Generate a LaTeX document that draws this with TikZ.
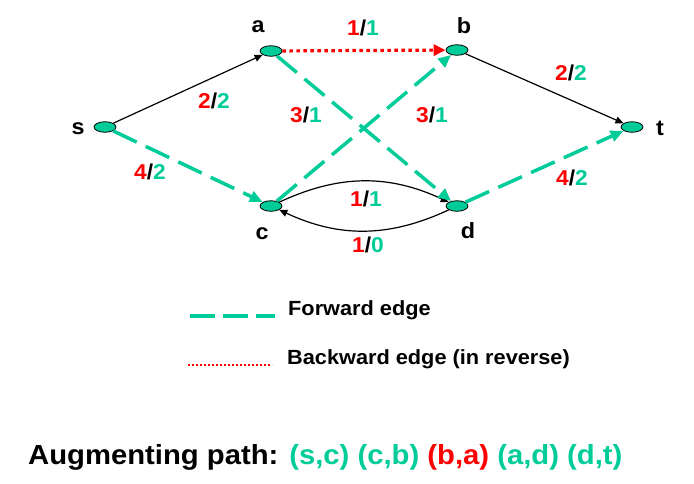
\documentclass[tikz,border=0pt]{standalone}
\usepackage{fontspec}
\setmainfont{Liberation Sans}[FakeStretch=1.06]
\usetikzlibrary{arrows.meta,shapes.geometric}
\definecolor{flowgreen}{RGB}{0,204,153}
\definecolor{capred}{RGB}{255,0,0}
\newcommand{\capflow}[2]{\textcolor{capred}{#1}/\textcolor{flowgreen}{#2}}

\begin{document}
\begin{tikzpicture}[x=1pt,y=-1pt,
  vertex/.style={ellipse,draw=black,line width=0.8pt,fill=flowgreen,
    minimum width=22pt,minimum height=10.5pt,inner sep=0pt},
  vname/.style={inner sep=0pt,font=\fontsize{22}{24}\selectfont\bfseries},
  flowlabel/.style={inner sep=0pt,font=\fontsize{21.5}{24}\selectfont\bfseries},
  legend/.style={anchor=west,inner sep=0pt,font=\fontsize{20.5}{24}\selectfont\bfseries},
  plain/.style={-{Triangle[length=8pt,width=7pt]},line width=1.2pt,black},
  fwd/.style={-{Triangle[length=13pt,width=11pt]},line width=3.5pt,flowgreen,
    dash pattern=on 26pt off 10pt},
  bwd/.style={-{Triangle[length=12pt,width=11pt]},line width=3.2pt,capred,
    dash pattern=on 3.5pt off 3.5pt}]
  \useasboundingbox (0,0) rectangle (694,483);

  % vertices
  \node[vertex] (s) at (105,127) {};
  \node[vertex] (a) at (271,51) {};
  \node[vertex] (b) at (457,50) {};
  \node[vertex] (c) at (271,206) {};
  \node[vertex] (d) at (457,206) {};
  \node[vertex] (t) at (632,127) {};

  \node[vname] (s-name) at (78,129) {s};
  \node[vname] (a-name) at (258,27) {a};
  \node[vname] (b-name) at (464,26) {b};
  \node[vname] (c-name) at (262,234) {c};
  \node[vname] (d-name) at (468,231) {d};
  \node[vname] (t-name) at (660,128) {t};

  % edges
  \path[plain]
  (s) edge (a)
  (b) edge (t)
  (c) edge[bend left=25] (d)
  (d) edge[bend left=25] (c);
  \path[fwd]
  (s) edge (c)
  (c) edge (b)
  (a) edge (d)
  (d) edge (t);
  \path[bwd]
  (a) edge (b);

  % capacity / flow
  \node[flowlabel] (ab-flow) at (363,28) {\capflow{1}{1}};
  \node[flowlabel] (sa-flow) at (214,101) {\capflow{2}{2}};
  \node[flowlabel] (ad-flow) at (306,115) {\capflow{3}{1}};
  \node[flowlabel] (cb-flow) at (432,115) {\capflow{3}{1}};
  \node[flowlabel] (bt-flow) at (571,73) {\capflow{2}{2}};
  \node[flowlabel] (sc-flow) at (150,172) {\capflow{4}{2}};
  \node[flowlabel] (dt-flow) at (572,178) {\capflow{4}{2}};
  \node[flowlabel] (cd-flow) at (366,199) {\capflow{1}{1}};
  \node[flowlabel] (dc-flow) at (368,245) {\capflow{1}{0}};

  % legend
  \coordinate (fw-from) at (190,316);
  \coordinate (fw-to) at (275,316);
  \draw[fwd,-,dash pattern=on 25pt off 8pt] (fw-from) -- (fw-to);
  \node[legend] (fw-text) at (288,310) {Forward edge};
  \coordinate (bw-from) at (188,365);
  \coordinate (bw-to) at (272,365);
  \draw[bwd,-,line width=2.4pt,dash pattern=on 2pt off 2pt] (bw-from) -- (bw-to);
  \node[legend] (bw-text) at (287,359) {Backward edge (in reverse)};

  \node[anchor=west,inner sep=0pt,font=\fontsize{27.6}{32}\selectfont\bfseries] (aug-path) at (28,457)
  {Augmenting path: \textcolor{flowgreen}{(s,c) (c,b)} \textcolor{capred}{(b,a)} \textcolor{flowgreen}{(a,d) (d,t)}};
\end{tikzpicture}
\end{document}
